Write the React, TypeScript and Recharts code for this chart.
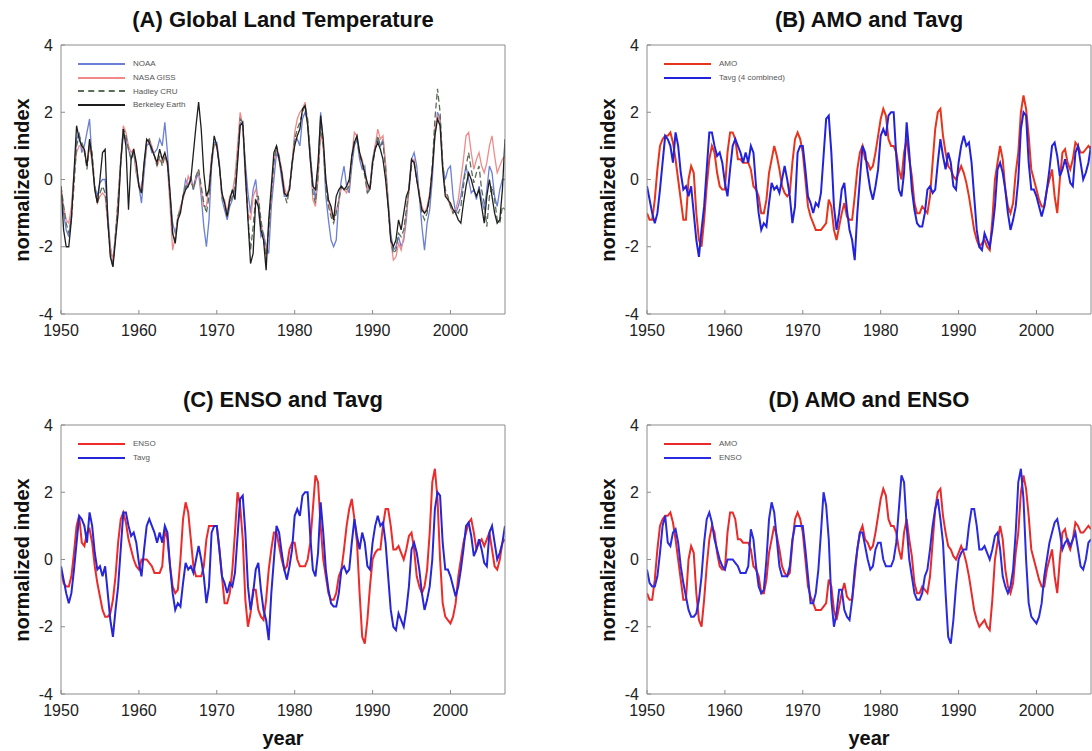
import React from 'react';
import { LineChart, Line, XAxis, YAxis, Legend } from 'recharts';

// monthly-ish series sampled every 1/3 year, 1950 .. 2007
const startYear = 1950;
const stepsPerYear = 3;
const xTicks = [1950, 1960, 1970, 1980, 1990, 2000];
const yTicks = [-4, -2, 0, 2, 4];

const tavg = [
  -0.2, -0.6, -1.0, -1.3, -1.0, -0.3, 0.5, 1.3, 1.2, 1.0, 0.5, 1.4, 1.0, 0.2, -0.3,
  -0.2, -0.5, -0.2, -1.0, -1.8, -2.3, -1.5, -0.8, 0.3, 1.4, 1.4, 1.0, 0.7, 0.8, 0.5,
  -0.1, -0.5, 0.3, 1.0, 1.2, 1.0, 0.8, 0.5, 0.8, 0.5, 1.0, 0.8, -0.2, -1.0, -1.5,
  -1.3, -1.4, -0.7, -0.1, -0.3, -0.2, -0.4, 0.0, 0.4, 0.0, -0.5, -1.3, -0.8, 0.8, 1.0,
  1.0, 0.3, -0.5, -0.7, -1.0, -0.7, -0.8, -0.4, 0.7, 1.8, 1.9, 0.8, -0.8, -1.5, -1.0,
  -0.3, -0.1, -0.9, -1.5, -1.8, -2.4, -1.0, 0.0, 1.0, 0.8, 0.2, -0.3, -0.6, -0.2, 0.3,
  1.3, 1.5, 1.3, 1.9, 2.0, 2.0, 0.7, -0.3, -0.5, 0.2, 1.7, 0.8, -0.3, -0.9, -1.3,
  -1.4, -1.4, -1.0, -0.3, -0.2, -0.4, -0.3, 0.5, 1.2, 0.7, 0.3, 0.8, 0.5, -0.2, -0.3,
  0.5, 1.0, 1.3, 1.0, 1.1, 0.5, -0.5, -1.5, -2.0, -2.1, -1.6, -1.8, -2.0, -1.5, -0.8,
  0.3, 0.5, 0.2, -0.3, -1.0, -1.5, -1.2, -0.8, 0.0, 1.5, 2.0, 1.9, 0.5, -0.3, -0.3,
  -0.5, -0.8, -1.1, -0.8, -0.3, 0.3, 1.0, 1.1, 0.7, 0.1, 0.3, 0.6, 0.3, -0.1, -0.2,
  0.8, 1.0, 0.5, 0.0, 0.2, 0.5, 1.0
];

const amo = [
  -1.0, -1.2, -1.2, -0.6, 0.3, 1.0, 1.2, 1.3, 1.3, 1.4, 1.1, 0.6, 0.0, -0.6, -1.2,
  -1.2, 0.0, 0.4, 0.2, -1.0, -1.8, -2.0, -1.2, -0.2, 0.6, 1.0, 0.8, 0.2, -0.2, -0.3,
  -0.3, 0.8, 1.4, 1.4, 1.2, 0.6, 0.6, 0.5, 0.5, 0.5, 0.3, -0.2, -0.3, -0.5, -1.0,
  -1.0, -0.6, 0.2, 0.6, 1.0, 0.7, 0.3, -0.2, -0.4, -0.5, -0.4, 0.5, 1.2, 1.4, 1.2,
  0.8, 0.0, -0.8, -1.1, -1.3, -1.5, -1.5, -1.5, -1.4, -1.3, -0.6, -0.8, -1.5, -1.8, -1.4,
  -1.0, -0.7, -1.1, -1.2, -1.2, -0.5, 0.3, 0.8, 1.0, 0.6, 0.5, 0.3, 0.4, 0.8, 1.3,
  1.8, 2.1, 1.9, 1.2, 1.0, 1.0, 0.8, 0.3, 0.0, 0.8, 1.2, 0.6, 0.1, -0.7, -1.0,
  -1.0, -0.8, -0.9, -1.0, -0.5, 0.5, 1.5, 2.0, 2.1, 1.3, 0.8, 0.4, 0.3, 0.1, 0.0,
  0.2, 0.4, 0.2, -0.1, -0.5, -1.0, -1.5, -1.8, -2.0, -1.9, -1.8, -2.0, -2.1, -1.2, 0.0,
  0.5, 1.0, 0.6, -0.3, -0.8, -1.0, -0.7, 0.2, 0.8, 2.0, 2.5, 2.1, 1.3, 0.3, 0.0,
  -0.3, -0.6, -0.8, -0.8, -0.3, 0.0, 0.3, -0.5, -1.0, 0.0, 0.8, 0.9, 0.5, 0.3, 0.6,
  1.1, 1.0, 0.8, 0.8, 0.9, 1.0, 0.9
];

const enso = [
  -0.3, -0.7, -0.8, -0.8, -0.5, 0.2, 1.0, 1.3, 0.5, 0.4, 0.8, 0.9, 0.5, -0.2, -0.7,
  -1.1, -1.5, -1.7, -1.7, -1.6, -1.2, -0.5, 0.5, 1.2, 1.4, 1.1, 0.6, 0.3, 0.0, -0.2,
  -0.3, 0.0, 0.0, 0.0, -0.1, -0.2, -0.4, -0.4, -0.4, -0.2, 0.9, 0.6, -0.2, -0.8, -1.0,
  -0.9, 0.0, 1.2, 1.7, 1.4, 0.6, -0.2, -0.5, -0.5, -0.5, -0.2, 0.6, 1.0, 1.0, 1.0,
  1.0, 0.3, -0.5, -1.3, -1.3, -1.0, -0.3, 0.8, 2.0, 1.6, 0.6, -1.2, -2.0, -1.6, -0.9,
  -0.9, -1.5, -1.7, -1.8, -1.2, -0.3, 0.3, 0.8, 0.8, 0.4, 0.0, -0.3, -0.2, 0.3, 0.5,
  0.5, 0.0, -0.2, -0.2, -0.2, 0.0, 0.5, 1.5, 2.5, 2.3, 1.0, 0.0, -0.5, -1.0, -1.2,
  -1.2, -1.0, -0.5, -0.3, 0.3, 1.0, 1.5, 1.8, 1.2, 0.5, -1.0, -2.3, -2.5, -1.8, -0.8,
  0.0, 0.2, 0.3, 0.3, 1.0, 1.5, 1.5, 1.0, 0.3, 0.3, 0.4, 0.2, 0.0, 0.3, 0.7,
  0.8, 0.3, -0.5, -0.8, -1.0, -0.8, -0.3, 0.8, 2.3, 2.7, 1.8, 0.0, -1.3, -1.7, -1.8,
  -1.9, -1.7, -1.3, -0.5, 0.0, 0.5, 0.8, 1.1, 1.2, 0.8, 0.3, 0.5, 0.6, 0.4, 0.6,
  0.8, 0.3, -0.2, -0.3, 0.0, 0.5, 0.6
];

const noaa = [
  -0.3, -1.0, -1.5, -1.7, -1.0, 0.0, 1.2, 1.4, 0.8, 1.0, 1.4, 1.8, 0.5, -0.2, -0.5,
  -0.1, 0.0, 0.0, -1.0, -2.0, -2.5, -1.6, -0.8, 0.5, 1.3, 1.2, 0.9, 0.6, 0.8, 0.2,
  -0.2, -0.7, 0.2, 1.0, 1.1, 0.8, 0.8, 0.9, 1.2, 1.0, 1.7, 0.8, -0.4, -1.3, -1.6,
  -1.2, -0.9, -0.5, 0.0, -0.2, 0.1, -0.3, 0.0, 0.2, -0.5, -1.4, -2.0, -1.2, 0.4, 1.1,
  1.1, 0.5, -0.6, -0.9, -1.2, -0.8, -0.6, -0.3, 0.6, 1.7, 1.6, 0.5, -0.4, -1.0, -0.3,
  0.0, -0.8, -1.7, -1.6, -2.0, -2.2, -0.8, 0.0, 0.8, 0.6, 0.0, -0.5, -0.5, -0.2, 0.4,
  1.2, 1.2, 1.0, 1.8, 2.0, 1.7, 0.8, -0.1, -0.6, 0.3, 2.0, 1.0, -0.5, -1.2, -1.8,
  -2.0, -1.8, -0.6, 0.0, 0.4, -0.2, -0.4, 0.4, 1.0, 1.2, 0.6, 0.3, 0.4, -0.4, -0.2,
  0.6, 1.0, 1.2, 1.0, 1.2, 0.4, -0.6, -1.6, -2.1, -2.0, -1.7, -2.0, -1.8, -1.2, -0.2,
  0.6, 0.8, 0.4, -0.5, -1.4, -2.1, -1.3, -0.9, 0.0, 1.3, 2.0, 1.8, 0.4, 0.0, 0.3,
  0.4, -0.5, -1.0, -0.8, -0.5, 0.0, 0.4, 0.0, -0.4, -0.3, -0.6, -0.2, -0.6, -0.9, -0.3,
  0.4, 0.2, -0.5, -0.8, -0.3, 0.0, 0.0
];

const nasaGiss = [
  -0.2, -0.8, -1.2, -1.3, -0.8, 0.2, 0.8, 1.0, 1.0, 0.8, 0.4, 1.0, 0.5, -0.3, -0.7,
  -0.5, -0.4, -0.5, -1.3, -2.0, -2.4, -1.7, -0.5, 0.6, 1.6, 1.4, 1.0, 0.8, 0.9, 0.2,
  -0.1, -0.3, 0.4, 1.1, 1.2, 1.0, 0.7, 0.4, 0.6, 0.5, 0.7, 0.4, -0.8, -2.1, -1.7,
  -1.1, -0.8, -0.6, -0.3, 0.1, -0.1, -0.2, 0.1, 0.3, -0.3, -0.8, -0.8, -0.2, 0.7, 1.0,
  1.0, 0.4, -0.5, -0.6, -1.0, -0.5, -0.4, 0.1, 1.0, 2.0, 1.6, 0.0, -1.0, -1.2, -0.5,
  -0.3, -0.6, -1.3, -1.7, -2.3, -1.4, -0.5, 0.5, 0.9, 0.7, 0.3, -0.2, -0.5, -0.2, 0.5,
  1.4, 1.8, 2.0, 2.1, 2.3, 1.7, 0.6, -0.6, -0.8, 0.0, 1.4, 1.0, 0.0, -0.6, -1.0,
  -1.2, -0.9, -0.7, -0.2, -0.3, -0.4, -0.2, 0.7, 1.4, 1.3, 0.8, 0.6, 0.2, -0.3, -0.2,
  0.5, 1.0, 1.5, 1.2, 1.3, 0.5, -0.7, -1.8, -2.4, -2.3, -1.9, -2.1, -1.7, -1.0, -0.4,
  0.5, 0.6, 0.0, -0.4, -0.8, -1.0, -0.8, -0.4, 0.3, 1.5, 1.9, 1.7, 0.4, -0.4, -0.6,
  -0.8, -1.0, -0.9, -0.6, 0.0, 0.6, 1.3, 1.4, 0.8, 0.3, 0.6, 0.8, 0.4, 0.2, 0.5,
  1.0, 1.3, 0.7, 0.2, 0.4, 0.6, 0.7
];

const hadleyCru = [
  -0.2, -0.8, -1.3, -1.6, -1.2, -0.2, 1.0, 1.3, 1.1, 0.9, 0.3, 1.1, 0.8, -0.2, -0.7,
  -0.4, -0.2, -0.4, -1.2, -2.2, -2.6, -1.6, -0.6, 0.5, 1.5, 1.3, 0.9, 0.6, 0.8, 0.4,
  -0.2, -0.4, 0.4, 1.1, 1.2, 0.9, 0.7, 0.4, 0.7, 0.4, 0.7, 0.5, -0.5, -1.6, -1.8,
  -1.1, -0.9, -0.5, -0.2, -0.2, 0.0, -0.3, 0.1, 0.3, -0.2, -0.7, -1.0, -0.5, 0.6, 1.1,
  1.0, 0.4, -0.5, -0.7, -1.1, -0.7, -0.5, -0.2, 0.7, 1.8, 1.7, 0.3, -1.1, -2.1, -1.4,
  -0.5, -0.5, -1.2, -1.7, -2.4, -1.5, -0.5, 0.5, 1.0, 0.7, 0.2, -0.4, -0.7, -0.3, 0.4,
  1.2, 1.5, 1.7, 2.0, 2.2, 1.8, 0.7, -0.4, -0.7, 0.1, 1.6, 1.0, -0.2, -0.8, -1.1,
  -1.3, -1.0, -0.6, -0.2, -0.3, -0.3, -0.2, 0.6, 1.2, 1.2, 0.7, 0.5, 0.1, -0.4, -0.3,
  0.4, 0.9, 1.3, 1.0, 1.1, 0.3, -0.8, -1.8, -2.2, -2.1, -1.6, -1.7, -1.5, -0.9, -0.3,
  0.4, 0.5, 0.0, -0.4, -1.0, -1.2, -1.0, -0.5, 0.4, 1.8, 2.7, 2.0, 0.5, -0.3, -0.5,
  -0.8, -1.0, -0.9, -1.0, -0.8, -0.2, 0.4, 0.8, 0.3, -0.1, 0.2, 0.4, -0.3, -0.7, -1.4,
  -0.5, -0.2, -0.6, -1.2, -1.3, -0.8, -0.9
];

const berkeley = [
  -0.2, -1.5, -2.0, -2.0, -1.2, 0.2, 1.6, 1.2, 1.0, 0.9, 0.4, 1.2, 0.6, -0.3, -0.7,
  0.0, 0.8, 0.9, -1.2, -2.3, -2.6, -1.8, -1.0, 0.5, 1.5, 1.0, -0.9, 0.6, 0.9, 0.5,
  -0.2, -0.4, 0.5, 1.2, 1.1, 0.9, 0.7, 0.5, 0.9, 0.6, 0.8, 0.5, -0.4, -1.6, -1.9,
  -1.2, -1.0, -0.5, -0.3, -0.2, 0.0, 0.8, 1.6, 2.3, 1.5, 0.2, -0.5, -0.3, 0.5, 1.3,
  1.0, 0.4, -0.4, -0.7, -1.1, -0.6, -0.3, -0.6, 0.5, 1.6, 1.7, 0.2, -1.2, -2.5, -2.2,
  -0.6, -0.8, -1.5, -1.8, -2.7, -1.2, -0.2, 0.8, 1.0, 0.6, 0.2, -0.4, -0.5, -0.3, 0.5,
  1.0, 1.3, 1.5, 2.1, 2.2, 1.6, 0.6, -0.2, -0.3, 0.5, 1.9, 1.2, 0.0, -0.6, -0.8,
  -1.2, -0.5, -0.3, -0.2, -0.3, -0.2, 0.0, 0.7, 1.1, 1.3, 0.8, 0.5, 0.2, -0.1, -0.3,
  0.5, 0.9, 1.1, 0.9, 0.6, 0.0, -0.8, -1.8, -2.0, -1.8, -1.2, -1.5, -1.0, -0.5, -0.3,
  0.6, 0.5, 0.0, -0.5, -0.9, -1.0, -0.9, -0.5, 0.3, 1.3, 1.8, 1.6, 0.3, -0.5, -0.6,
  -0.7, -0.9, -1.0, -1.2, -1.3, -0.7, -0.2, 0.2, 0.0, -0.3, -0.5, -0.3, -0.8, -1.3, -0.5,
  0.0, -0.5, -1.0, -1.3, -1.2, -0.3, 1.2
];

const years = tavg.map((_, i) => startYear + i / stepsPerYear);

const rows = years.map((year, i) => ({
  year,
  tavg: tavg[i],
  amo: amo[i],
  enso: enso[i],
  noaa: noaa[i],
  nasa: nasaGiss[i],
  hadley: hadleyCru[i],
  berkeley: berkeley[i]
}));

const font = '"Liberation Sans", Arial, Helvetica, sans-serif';
const frame = '#8c8c8c';

interface Series {
  key: string;
  name: string;
  color: string;
  width: number;
  dash?: string;
}

// legend keeps the order the series are drawn in (recharts sorts by name otherwise)
const makeLegend = (series: Series[]) => (props: any) => {
  const items = [...(props.payload || [])].sort(
    (a: any, b: any) =>
      series.findIndex((s) => s.name === a.value) - series.findIndex((s) => s.name === b.value)
  );
  return (
    <div style={{ fontFamily: font, fontSize: 8, color: '#555' }}>
      {items.map((p: any) => {
        const dashed = p.payload && p.payload.strokeDasharray;
        return (
          <div key={p.value} style={{ display: 'flex', alignItems: 'center', height: 13.7 }}>
            <span
              style={{
                display: 'inline-block',
                width: 47,
                height: 0,
                borderTop: `2px ${dashed ? 'dashed' : 'solid'} ${p.color}`,
                marginRight: 8
              }}
            />
            <span>{p.value}</span>
          </div>
        );
      })}
    </div>
  );
};

const Panel = ({
  left,
  top,
  right,
  title,
  series,
  showYear
}: {
  left: number;
  top: number;
  right: boolean;
  title: string;
  series: Series[];
  showYear: boolean;
}) => {
  const plotLeft = right ? 101 : 61;
  const plotWidth = 444;
  const margin = right
    ? { top: 44, right: 0, bottom: 32, left: 61 }
    : { top: 44, right: 40, bottom: 32, left: 21 };
  return (
    <div style={{ position: 'absolute', left, top, width: 546, height: 376 }}>
      <div
        style={{
          position: 'absolute',
          left: plotLeft,
          top: 8,
          width: plotWidth,
          textAlign: 'center',
          fontFamily: font,
          fontWeight: 'bold',
          fontSize: 22,
          lineHeight: '24px',
          color: '#111'
        }}
      >
        {title}
      </div>
      <div
        style={{
          position: 'absolute',
          left: plotLeft - 39 - 100,
          top: 180 - 12,
          width: 200,
          height: 24,
          lineHeight: '24px',
          textAlign: 'center',
          transform: 'rotate(-90deg)',
          fontFamily: font,
          fontWeight: 'bold',
          fontSize: 20,
          color: '#111'
        }}
      >
        normalized index
      </div>
      {showYear && (
        <div
          style={{
            position: 'absolute',
            left: plotLeft,
            top: 346,
            width: plotWidth,
            textAlign: 'center',
            fontFamily: font,
            fontWeight: 'bold',
            fontSize: 20,
            lineHeight: '24px',
            color: '#111'
          }}
        >
          year
        </div>
      )}
      <div style={{ position: 'absolute', left: 0, top: 0 }}>
        <LineChart width={546} height={376} data={rows} margin={margin}>
          <XAxis
            dataKey="year"
            type="number"
            domain={[1950, 2007]}
            ticks={xTicks}
            interval={0}
            allowDataOverflow
            height={30}
            stroke={frame}
            tickSize={-4}
            tickMargin={15}
            tick={{ fill: '#222', fontSize: 16, fontFamily: font }}
          />
          <XAxis
            xAxisId="top"
            orientation="top"
            type="number"
            domain={[1950, 2007]}
            ticks={xTicks}
            height={1}
            stroke={frame}
            tickSize={-4}
            tick={false}
          />
          <YAxis
            type="number"
            domain={[-4, 4]}
            ticks={yTicks}
            interval={0}
            allowDataOverflow
            width={40}
            stroke={frame}
            tickSize={-4}
            tickMargin={12}
            tick={{ fill: '#222', fontSize: 16, fontFamily: font }}
          />
          <YAxis
            yAxisId="right"
            orientation="right"
            type="number"
            domain={[-4, 4]}
            ticks={yTicks}
            width={1}
            stroke={frame}
            tickSize={-4}
            tick={false}
          />
          <Legend
            layout="vertical"
            align="center"
            verticalAlign="middle"
            content={makeLegend(series)}
            wrapperStyle={{ top: 57, left: plotLeft + 17, width: 'auto', height: 'auto' }}
          />
          {series.map((s) => (
            <Line
              key={s.key}
              type="linear"
              dataKey={s.key}
              name={s.name}
              stroke={s.color}
              strokeWidth={s.width}
              strokeDasharray={s.dash}
              dot={false}
              activeDot={false}
              isAnimationActive={false}
            />
          ))}
        </LineChart>
      </div>
    </div>
  );
};

const seriesA: Series[] = [
  { key: 'noaa', name: 'NOAA', color: '#6a7fd6', width: 1.3 },
  { key: 'nasa', name: 'NASA GISS', color: '#f08a8a', width: 1.3 },
  { key: 'hadley', name: 'Hadley CRU', color: '#5c6e58', width: 1.3, dash: '6 3' },
  { key: 'berkeley', name: 'Berkeley Earth', color: '#1e1e1e', width: 1.3 }
];
const seriesB: Series[] = [
  { key: 'amo', name: 'AMO', color: '#e8341c', width: 2 },
  { key: 'tavg', name: 'Tavg (4 combined)', color: '#2222dd', width: 2 }
];
const seriesC: Series[] = [
  { key: 'enso', name: 'ENSO', color: '#ee2a2a', width: 2 },
  { key: 'tavg', name: 'Tavg', color: '#2626d8', width: 2 }
];
const seriesD: Series[] = [
  { key: 'amo', name: 'AMO', color: '#e82a2a', width: 2 },
  { key: 'enso', name: 'ENSO', color: '#2a2ae0', width: 2 }
];

export default function App() {
  return (
    <div
      style={{
        position: 'absolute',
        left: 0,
        top: 0,
        width: 1092,
        height: 751,
        background: '#fff',
        overflow: 'hidden'
      }}
    >
      <Panel left={0} top={0} right={false} title="(A) Global Land Temperature" series={seriesA} showYear={false} />
      <Panel left={546} top={0} right title="(B) AMO and Tavg" series={seriesB} showYear={false} />
      <Panel left={0} top={380} right={false} title="(C) ENSO and Tavg" series={seriesC} showYear />
      <Panel left={546} top={380} right title="(D) AMO and ENSO" series={seriesD} showYear />
    </div>
  );
}
